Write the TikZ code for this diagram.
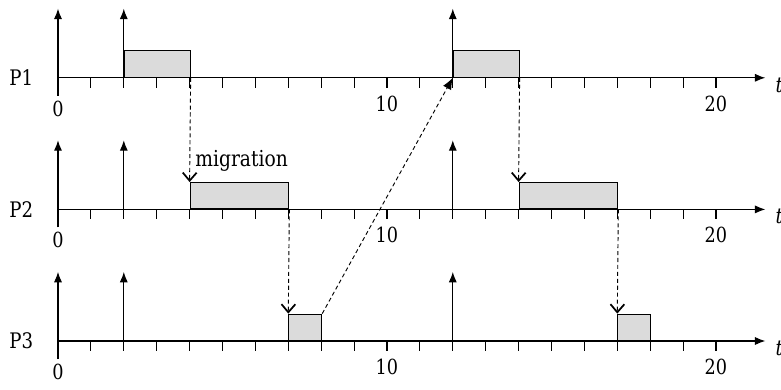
\documentclass[tikz,border=0pt]{standalone}
\usepackage{fontspec}
\setmainfont[FakeStretch=0.85]{DejaVu Serif}
\usetikzlibrary{arrows.meta}

\newcommand{\lblfont}{\fontsize{18.5}{21}\selectfont}
\newcommand{\migfont}{\fontsize{19}{22}\selectfont}
\newcommand{\numfont}{\fontsize{18}{21}\selectfont}

\tikzset{
  axisline/.style={line width=0.9pt, -{Latex[length=9pt, width=7pt]}},
  job/.style={draw, fill=gray!28, line width=0.9pt, inner sep=0pt,
    anchor=south west, minimum height=0.8cm},
  migr/.style={dashed, dash pattern=on 3.5pt off 2.5pt, line width=0.8pt,
    -{Straight Barb[length=7pt, width=12pt, line width=1.5pt]}},
  jump/.style={dashed, dash pattern=on 3.5pt off 2.5pt, line width=0.8pt,
    -{Latex[length=10pt, width=8pt]}}
}

\begin{document}
\begin{tikzpicture}[line width=0.9pt]
  \useasboundingbox (-1.763,-1.489) rectangle (21.976,10.365);
  % three processor time lines
  \foreach \p/\y in {1/8, 2/4, 3/0} {
    \draw[axisline] (0,\y) -- (21.5,\y);
    \foreach \x in {1,...,20} { \draw (\x,\y) -- (\x,\y-0.3); }
    \draw (0,\y-0.55) -- (0,\y);
    \foreach \x in {0, 2, 12} { \draw[axisline] (\x,\y) -- (\x,\y+2.1); }
    \node[left, inner sep=0pt, font=\lblfont] (lbl\p) at (-0.74,\y) {P\p};
    \node[font=\numfont] (zero\p) at (0,\y-0.94) {0};
    \node[font=\numfont] (ten\p) at (10,\y-0.79) {10};
    \node[font=\numfont] (twenty\p) at (20,\y-0.79) {20};
    \node[right, inner sep=0pt, font=\lblfont] (t\p) at (21.8,\y-0.22) {\textit{t}};
  }
  % executed jobs
  \node[job, minimum width=2cm] (p1a) at (2,8) {};
  \node[job, minimum width=2cm] (p1b) at (12,8) {};
  \node[job, minimum width=3cm] (p2a) at (4,4) {};
  \node[job, minimum width=3cm] (p2b) at (14,4) {};
  \node[job, minimum width=1cm] (p3a) at (7,0) {};
  \node[job, minimum width=1cm] (p3b) at (17,0) {};
  \node[anchor=base west, inner sep=0pt, font=\migfont] (mig)
    at ([shift={(0.16,0.48)}]p2a.north west) {migration};
  % migrations
  \draw[migr] (p1a.south east) -- (p2a.north west);
  \draw[migr] (p2a.south east) -- (p3a.north west);
  \draw[jump] (p3a.north east) -- (p1b.south west);
  \draw[migr] (p1b.south east) -- (p2b.north west);
  \draw[migr] (p2b.south east) -- (p3b.north west);
\end{tikzpicture}
\end{document}
